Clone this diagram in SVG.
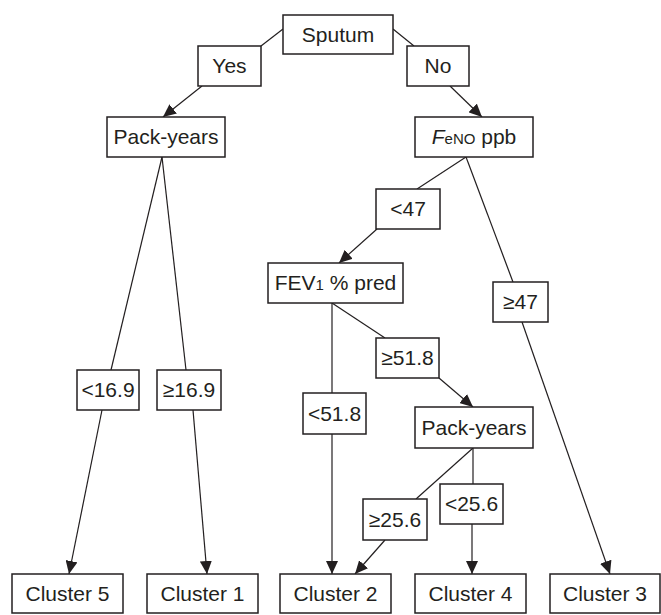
<svg xmlns="http://www.w3.org/2000/svg" width="661" height="615" viewBox="0 0 661 615">
<defs>
<marker id="ah" markerUnits="userSpaceOnUse" markerWidth="13" markerHeight="12" refX="13" refY="6" orient="auto">
<path d="M0,0 L13,6 L0,12 Z" fill="#231f20"/>
</marker>
<style>
rect{fill:#fff;stroke:#231f20;stroke-width:1.5}
text{font-family:"Liberation Sans",Arial,sans-serif;font-size:21px;fill:#231f20;text-anchor:middle}
.c line{stroke:#231f20;stroke-width:1.2}
.a{marker-end:url(#ah)}
</style>
</defs>
<rect x="0" y="0" width="661" height="615" style="stroke:none"/>
<g class="c" id="connectors">
<line x1="283" y1="29" x2="261" y2="46"/>
<line x1="393" y1="29" x2="414" y2="46"/>
<line class="a" x1="202" y1="86" x2="163" y2="117"/>
<line class="a" x1="450" y1="86" x2="482" y2="117"/>
<line x1="162" y1="157" x2="111" y2="370"/>
<line x1="162" y1="157" x2="186" y2="370"/>
<line class="a" x1="102" y1="410" x2="69" y2="574"/>
<line class="a" x1="193" y1="410" x2="207" y2="574"/>
<line x1="466" y1="157" x2="417" y2="189"/>
<line x1="466" y1="157" x2="513" y2="282"/>
<line class="a" x1="377" y1="229" x2="339" y2="263"/>
<line class="a" x1="522" y1="322" x2="610" y2="574"/>
<line x1="332" y1="303" x2="332" y2="393"/>
<line x1="332" y1="303" x2="385" y2="338"/>
<line class="a" x1="332" y1="434" x2="332" y2="574"/>
<line class="a" x1="439" y1="378" x2="473" y2="407"/>
<line x1="473" y1="448" x2="416" y2="499"/>
<line x1="473" y1="448" x2="473" y2="484"/>
<line class="a" x1="385" y1="540" x2="355" y2="574"/>
<line class="a" x1="472" y1="524" x2="472" y2="574"/>
</g>
<g id="sputum"><rect x="283" y="15" width="110" height="39"/><text x="338" y="42">Sputum</text></g>
<g id="yes"><rect x="198" y="46" width="63" height="40"/><text x="229.5" y="73">Yes</text></g>
<g id="no"><rect x="407" y="46" width="62" height="40"/><text x="438" y="73">No</text></g>
<g id="packyears1"><rect x="107" y="117" width="118" height="40"/><text x="166" y="144">Pack-years</text></g>
<g id="feno"><rect x="415" y="117" width="118" height="40"/><text x="474" y="144"><tspan font-style="italic">F</tspan><tspan font-size="15">eNO</tspan> ppb</text></g>
<g id="lt47"><rect x="376" y="189" width="64" height="40"/><text x="408" y="216">&lt;47</text></g>
<g id="fev1"><rect x="268" y="263" width="135" height="40"/><text x="335.5" y="290">FEV<tspan font-size="15">1</tspan> % pred</text></g>
<g id="ge47"><rect x="493" y="282" width="55" height="40"/><text x="520.5" y="309">≥47</text></g>
<g id="lt169"><rect x="77" y="370" width="62" height="40"/><text x="108" y="397">&lt;16.9</text></g>
<g id="ge169"><rect x="157" y="370" width="64" height="40"/><text x="189" y="397">≥16.9</text></g>
<g id="ge518"><rect x="376" y="338" width="63" height="40"/><text x="407.5" y="365">≥51.8</text></g>
<g id="lt518"><rect x="303" y="393" width="63" height="41"/><text x="334.5" y="420.5">&lt;51.8</text></g>
<g id="packyears2"><rect x="415" y="407" width="118" height="41"/><text x="474" y="434.5">Pack-years</text></g>
<g id="lt256"><rect x="440" y="484" width="63" height="40"/><text x="471.5" y="511">&lt;25.6</text></g>
<g id="ge256"><rect x="363" y="499" width="64" height="41"/><text x="395" y="526.5">≥25.6</text></g>
<g id="cluster5"><rect x="12" y="574" width="111" height="39"/><text x="67.5" y="601">Cluster 5</text></g>
<g id="cluster1"><rect x="147" y="574" width="111" height="39"/><text x="202.5" y="601">Cluster 1</text></g>
<g id="cluster2"><rect x="280" y="574" width="111" height="39"/><text x="335.5" y="601">Cluster 2</text></g>
<g id="cluster4"><rect x="415" y="574" width="111" height="39"/><text x="470.5" y="601">Cluster 4</text></g>
<g id="cluster3"><rect x="550" y="574" width="110" height="39"/><text x="605" y="601">Cluster 3</text></g>
</svg>
